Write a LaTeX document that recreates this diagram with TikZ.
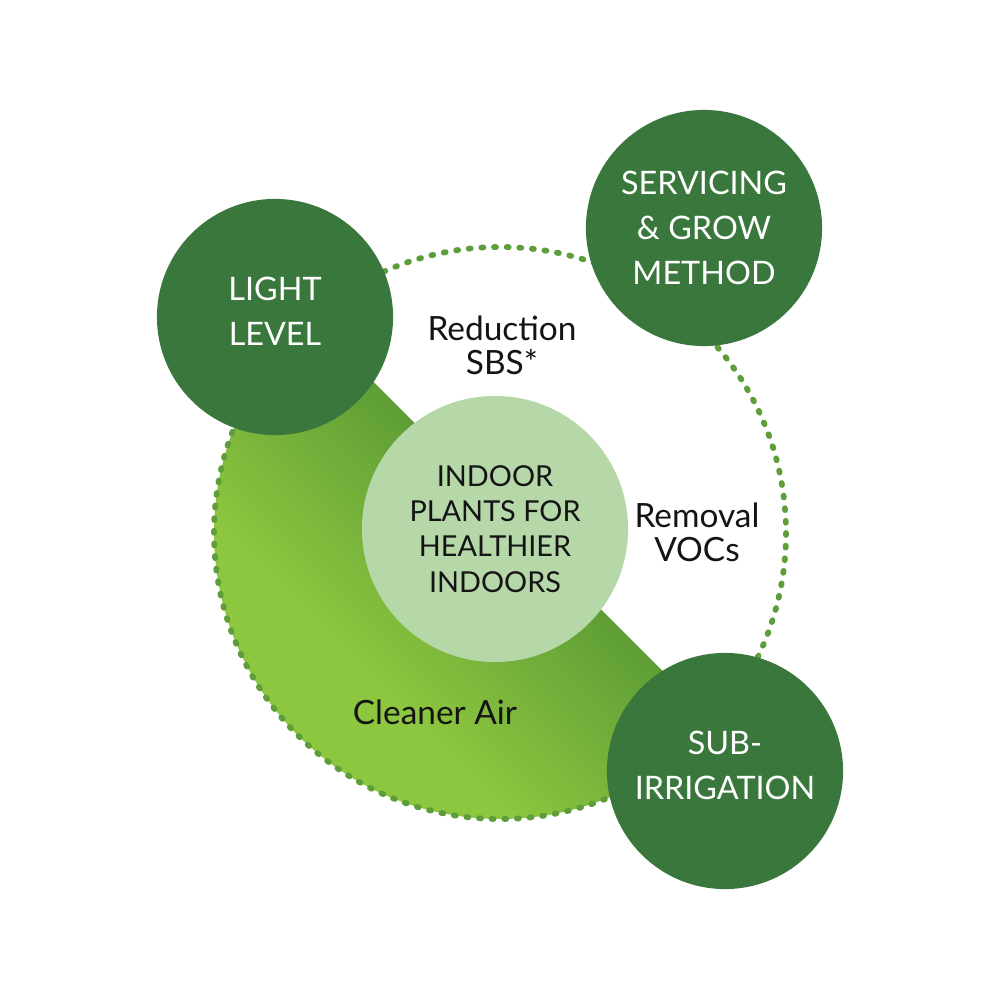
\documentclass[tikz,border=0pt]{standalone}
\usepackage{fontspec}
\setmainfont{Lato}
\usetikzlibrary{positioning}

\definecolor{forestgreen}{HTML}{3A773C}
\definecolor{mossgreen}{HTML}{5A9A35}
\definecolor{limegreen}{HTML}{8DC63F}
\definecolor{sagegreen}{HTML}{B6D8A9}
\definecolor{dotgreen}{HTML}{5E9E3A}
\definecolor{inkblack}{HTML}{141414}

% fade of the cleaner air segment
\pgfdeclareverticalshading{airfade}{100bp}{%
  color(0bp)=(limegreen); color(38bp)=(limegreen);
  color(60bp)=(mossgreen); color(100bp)=(mossgreen)}

\begin{document}
\begin{tikzpicture}[
    x=0.01cm,
    y=-0.01cm,
    pillar/.style={
      circle,
      fill=forestgreen,
      text=white,
      minimum size=2.36cm,
      align=center,
      font=\fontsize{9.2}{12.8}\selectfont
    },
    raised/.style={text depth=0.11cm},
    core/.style={
      circle,
      fill=sagegreen,
      text=inkblack,
      minimum size=2.66cm,
      align=center,
      font=\fontsize{8.2}{10}\selectfont
    },
    benefit/.style={
      align=center,
      text=inkblack,
      font=\fontsize{9.5}{9.7}\selectfont
    }
  ]
    \useasboundingbox[fill=white] (0,0) rectangle (1000,1000);

    % cleaner air segment
    \shade[shading=airfade, shading angle=-45]
      (500,533) ++(41.5:286) arc[start angle=41.5, end angle=228.5, radius=286] -- cycle;

    % dotted ring
    \draw[dotgreen, line width=1.65pt, line cap=round, dash pattern=on 0.55pt off 3.05pt]
      (500,533) circle[radius=286];

    \node[core] (plants) at (495,529) {INDOOR\\PLANTS FOR\\HEALTHIER\\INDOORS};

    \node[pillar, raised] (light) at (275,317) {LIGHT\\LEVEL};
    \node[pillar] (servicing) at (704,228) {SERVICING\\\& GROW\\METHOD};
    \node[pillar, raised] (irrigation) at (725,771) {SUB-\\IRRIGATION};

    \node[benefit] (sbs) at (502,345) {Reduction\\SBS*};
    \node[benefit] (vocs) at (697,532) {Removal\\VOCs};
    \node[benefit] (air) at (435,712) {Cleaner Air};
  \end{tikzpicture}
\end{document}
